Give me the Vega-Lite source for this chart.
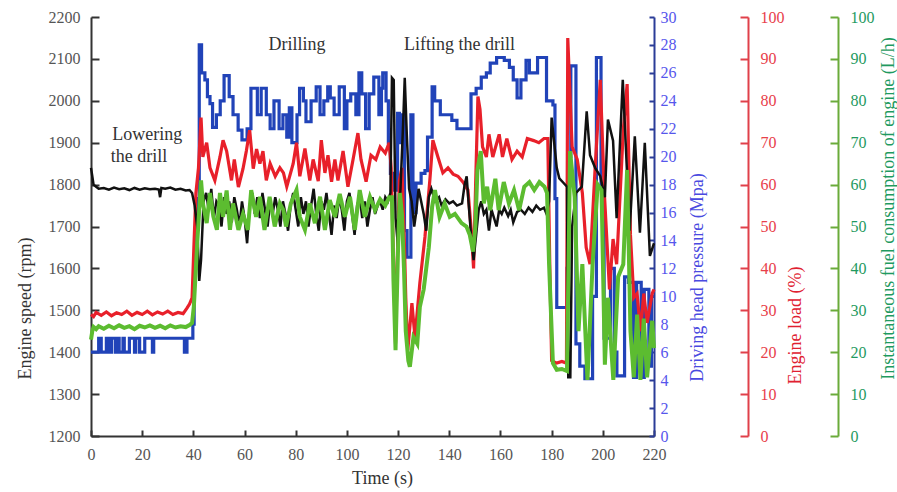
{
  "$schema": "https://vega.github.io/schema/vega-lite/v6.json",
  "width": 563,
  "height": 419,
  "autosize": {"type": "none"},
  "padding": {"left": 91, "top": 17, "right": 243, "bottom": 56},
  "background": "white",
  "config": {
    "view": {"stroke": null},
    "font": "Liberation Serif",
    "axis": {"grid": false, "labelFont": "Liberation Serif", "titleFont": "Liberation Serif", "labelFontSize": 16, "titleFontSize": 18, "titleFontWeight": "normal", "domainWidth": 2, "tickWidth": 2}
  },
  "datasets": {
    "speed": [
      {"t":0,"v":1840},{"t":0.5,"v":1820},{"t":1,"v":1800},{"t":2,"v":1795},{"t":3,"v":1790},{"t":5,"v":1792},{"t":7,"v":1788},{"t":9,"v":1793},{"t":11,"v":1789},{"t":13,"v":1791},{"t":15,"v":1787},{"t":17,"v":1792},{"t":19,"v":1788},{"t":21,"v":1791},{"t":23,"v":1789},{"t":25,"v":1790},{"t":26.5,"v":1788},{"t":27,"v":1770},{"t":27.5,"v":1792},{"t":29,"v":1790},{"t":31,"v":1793},{"t":33,"v":1788},{"t":35,"v":1790},{"t":37,"v":1786},{"t":38.5,"v":1787},{"t":39.5,"v":1780},{"t":40.5,"v":1750},{"t":41.5,"v":1700},{"t":42.3,"v":1570},{"t":43,"v":1620},{"t":44,"v":1760},{"t":45,"v":1780},{"t":46,"v":1740},{"t":47,"v":1790},{"t":48,"v":1720},{"t":49,"v":1760},{"t":50,"v":1750},{"t":51,"v":1700},{"t":52,"v":1770},{"t":53,"v":1730},{"t":54,"v":1760},{"t":55,"v":1710},{"t":56,"v":1770},{"t":57,"v":1740},{"t":58,"v":1700},{"t":59,"v":1760},{"t":60,"v":1720},{"t":61,"v":1660},{"t":62,"v":1750},{"t":63,"v":1780},{"t":64,"v":1730},{"t":65,"v":1770},{"t":66,"v":1720},{"t":67,"v":1780},{"t":68,"v":1740},{"t":69,"v":1700},{"t":70,"v":1760},{"t":71,"v":1730},{"t":72,"v":1770},{"t":73,"v":1740},{"t":74,"v":1700},{"t":75,"v":1760},{"t":76,"v":1730},{"t":77,"v":1690},{"t":78,"v":1750},{"t":79,"v":1780},{"t":80,"v":1740},{"t":81,"v":1700},{"t":82,"v":1770},{"t":83,"v":1730},{"t":84,"v":1760},{"t":85,"v":1700},{"t":86,"v":1750},{"t":87,"v":1790},{"t":88,"v":1730},{"t":89,"v":1690},{"t":90,"v":1760},{"t":91,"v":1740},{"t":92,"v":1780},{"t":93,"v":1730},{"t":94,"v":1680},{"t":95,"v":1750},{"t":96,"v":1720},{"t":97,"v":1770},{"t":98,"v":1740},{"t":99,"v":1690},{"t":100,"v":1760},{"t":101,"v":1780},{"t":102,"v":1730},{"t":103,"v":1680},{"t":104,"v":1750},{"t":105,"v":1770},{"t":106,"v":1720},{"t":107,"v":1760},{"t":108,"v":1700},{"t":109,"v":1740},{"t":110,"v":1770},{"t":111,"v":1730},{"t":112,"v":1750},{"t":113,"v":1760},{"t":114,"v":1740},{"t":115,"v":1770},{"t":116,"v":1760},{"t":117,"v":1780},{"t":117.6,"v":2055},{"t":118.3,"v":2050},{"t":119,"v":1720},{"t":120,"v":1650},{"t":121,"v":1800},{"t":122,"v":1950},{"t":122.6,"v":2055},{"t":123.4,"v":1920},{"t":124.3,"v":1790},{"t":125.3,"v":1760},{"t":126.3,"v":1700},{"t":127.2,"v":1740},{"t":128,"v":1790},{"t":129,"v":1760},{"t":130,"v":1730},{"t":131,"v":1690},{"t":132,"v":1770},{"t":133,"v":1790},{"t":134.5,"v":1760},{"t":136,"v":1770},{"t":137,"v":1750},{"t":138.5,"v":1765},{"t":140,"v":1755},{"t":141.5,"v":1760},{"t":143,"v":1750},{"t":145,"v":1755},{"t":146,"v":1800},{"t":146.8,"v":1820},{"t":147.5,"v":1760},{"t":148.5,"v":1680},{"t":149.5,"v":1620},{"t":150.5,"v":1680},{"t":151.5,"v":1740},{"t":152.5,"v":1760},{"t":153.5,"v":1730},{"t":154.5,"v":1740},{"t":155.5,"v":1690},{"t":156.5,"v":1740},{"t":157.5,"v":1720},{"t":158.5,"v":1700},{"t":159.5,"v":1740},{"t":160.5,"v":1730},{"t":161.5,"v":1745},{"t":163,"v":1725},{"t":164,"v":1740},{"t":165,"v":1710},{"t":166.5,"v":1735},{"t":168,"v":1740},{"t":169.5,"v":1730},{"t":171,"v":1745},{"t":172.5,"v":1735},{"t":174,"v":1750},{"t":175.5,"v":1740},{"t":177,"v":1745},{"t":178,"v":1730},{"t":179,"v":1760},{"t":180,"v":1960},{"t":181,"v":1900},{"t":182,"v":1840},{"t":183,"v":1815},{"t":184.5,"v":1805},{"t":186,"v":1795},{"t":186.5,"v":1340},{"t":187.3,"v":1340},{"t":188,"v":1700},{"t":189.5,"v":1780},{"t":191.8,"v":1795},{"t":193.7,"v":1975},{"t":195,"v":1870},{"t":197,"v":1840},{"t":199,"v":1820},{"t":200.8,"v":1770},{"t":202,"v":1955},{"t":204,"v":1905},{"t":205.4,"v":1720},{"t":207.8,"v":2050},{"t":210.5,"v":1690},{"t":212.5,"v":1915},{"t":214.5,"v":1685},{"t":216.4,"v":1900},{"t":218.4,"v":1630},{"t":220,"v":1660}
    ],
    "pressure": [
      {"t":0,"p":6},{"t":3,"p":7},{"t":4,"p":6},{"t":6,"p":7},{"t":7,"p":6},{"t":8,"p":7},{"t":9.5,"p":6},{"t":10,"p":7},{"t":11,"p":6},{"t":12.5,"p":7},{"t":13,"p":6},{"t":15,"p":7},{"t":17,"p":6},{"t":17.5,"p":7},{"t":19,"p":6},{"t":21,"p":7},{"t":24,"p":6},{"t":24.5,"p":7},{"t":36.5,"p":6},{"t":37.5,"p":7},{"t":39.8,"p":8},{"t":40.3,"p":12},{"t":41,"p":15},{"t":41.7,"p":17},{"t":42.3,"p":28},{"t":43.2,"p":26},{"t":44.5,"p":25.5},{"t":45.5,"p":24.3},{"t":46.5,"p":23.8},{"t":47.5,"p":22.1},{"t":49,"p":23},{"t":50.5,"p":24},{"t":52,"p":25.8},{"t":54,"p":24.3},{"t":55.5,"p":23},{"t":57.5,"p":21.9},{"t":59,"p":21.2},{"t":61,"p":22},{"t":62.5,"p":24.9},{"t":65,"p":23},{"t":66.5,"p":24.9},{"t":68.5,"p":23},{"t":70,"p":22},{"t":71.5,"p":24},{"t":73.5,"p":22},{"t":75,"p":23},{"t":76.5,"p":21.4},{"t":77.5,"p":23.5},{"t":78.5,"p":21},{"t":80.5,"p":23},{"t":81.5,"p":24.9},{"t":83,"p":24},{"t":84,"p":22.5},{"t":86,"p":24},{"t":88,"p":25},{"t":89.5,"p":23},{"t":91,"p":24},{"t":92.5,"p":25},{"t":93.5,"p":24.2},{"t":95,"p":23},{"t":97,"p":25},{"t":99,"p":22},{"t":100,"p":24},{"t":101.5,"p":24.5},{"t":103.5,"p":23},{"t":104.7,"p":26},{"t":105.8,"p":24.5},{"t":107.3,"p":22},{"t":108.7,"p":24.5},{"t":110.5,"p":25.7},{"t":112.5,"p":23},{"t":113.5,"p":24.9},{"t":114,"p":26},{"t":115.3,"p":24},{"t":116.2,"p":21},{"t":117,"p":18.8},{"t":118.5,"p":17.6},{"t":119.8,"p":23.1},{"t":120.5,"p":21},{"t":121.3,"p":23},{"t":122.5,"p":14.7},{"t":123.5,"p":12.8},{"t":125,"p":23},{"t":125.8,"p":16},{"t":127,"p":18.1},{"t":129,"p":18.8},{"t":130.5,"p":19},{"t":131.5,"p":21.4},{"t":133.3,"p":25},{"t":134.3,"p":24},{"t":136.5,"p":23},{"t":141,"p":22.6},{"t":143,"p":22},{"t":148.5,"p":24.5},{"t":150.5,"p":24.9},{"t":152.5,"p":25.7},{"t":154.5,"p":26},{"t":156,"p":26.7},{"t":158.5,"p":27.1},{"t":161.5,"p":26.9},{"t":163.5,"p":26.4},{"t":165,"p":25.5},{"t":166.5,"p":24.2},{"t":168,"p":25.5},{"t":170,"p":26.9},{"t":171.3,"p":26},{"t":174.5,"p":27.1},{"t":178,"p":24},{"t":180.5,"p":23.7},{"t":181.3,"p":17},{"t":182,"p":9.2},{"t":186,"p":12},{"t":186.7,"p":20},{"t":187.5,"p":26.5},{"t":189.5,"p":6.6},{"t":191,"p":5},{"t":193,"p":4.1},{"t":196,"p":10},{"t":197.5,"p":27.1},{"t":199.3,"p":18},{"t":200.5,"p":7},{"t":203,"p":12},{"t":204.5,"p":6},{"t":205.5,"p":4.3},{"t":208.5,"p":11.4},{"t":210,"p":11},{"t":212,"p":4.2},{"t":213.2,"p":11},{"t":215,"p":4.2},{"t":216.2,"p":10.5},{"t":218,"p":5},{"t":219,"p":10},{"t":220,"p":10}
    ],
    "load": [
      {"t":0,"l":29},{"t":1,"l":28.5},{"t":2,"l":29.5},{"t":4,"l":28.8},{"t":6,"l":29.6},{"t":8,"l":28.7},{"t":10,"l":29.4},{"t":12,"l":29},{"t":14,"l":29.8},{"t":16,"l":28.8},{"t":18,"l":29.5},{"t":20,"l":29},{"t":22,"l":29.8},{"t":24,"l":28.9},{"t":26,"l":29.6},{"t":28,"l":29.1},{"t":30,"l":29.8},{"t":32,"l":29},{"t":34,"l":29.5},{"t":36,"l":29.2},{"t":37.5,"l":30.5},{"t":38.5,"l":31.5},{"t":39.5,"l":33},{"t":40.2,"l":45},{"t":41,"l":58},{"t":42,"l":64},{"t":43,"l":76},{"t":43.7,"l":66.6},{"t":45.2,"l":70},{"t":46.5,"l":64},{"t":48.4,"l":61},{"t":50.4,"l":66.6},{"t":51.6,"l":70.6},{"t":53,"l":68},{"t":54.9,"l":61},{"t":56,"l":66},{"t":57.6,"l":59.4},{"t":59.4,"l":63.8},{"t":60.7,"l":68},{"t":62,"l":73},{"t":63.4,"l":63.8},{"t":64.7,"l":68.5},{"t":66,"l":65},{"t":67.2,"l":68},{"t":68.5,"l":61},{"t":70,"l":65},{"t":72,"l":62},{"t":73.8,"l":64},{"t":75.2,"l":62.8},{"t":76.5,"l":59.5},{"t":79,"l":65},{"t":80.3,"l":70},{"t":81.6,"l":62},{"t":83.6,"l":68.6},{"t":85.5,"l":61},{"t":86.8,"l":66},{"t":88.8,"l":60.8},{"t":90,"l":70.6},{"t":91.4,"l":62.8},{"t":92.6,"l":67},{"t":94,"l":60.7},{"t":95.3,"l":66},{"t":96.5,"l":61},{"t":98.5,"l":68},{"t":100.4,"l":59.5},{"t":102.4,"l":66},{"t":104.3,"l":72.3},{"t":105.5,"l":66},{"t":107.5,"l":60.7},{"t":109.4,"l":67},{"t":111.3,"l":66},{"t":113,"l":69},{"t":115,"l":67.5},{"t":116.5,"l":70},{"t":117.3,"l":64},{"t":118.3,"l":40},{"t":119,"l":22},{"t":119.8,"l":45},{"t":120.5,"l":61},{"t":121.5,"l":64},{"t":122.5,"l":45},{"t":123,"l":33},{"t":123.8,"l":20.5},{"t":125.4,"l":31.7},{"t":126.6,"l":23.6},{"t":128.5,"l":36.5},{"t":130.5,"l":47.5},{"t":132.4,"l":61},{"t":133.6,"l":70.6},{"t":135.5,"l":66.7},{"t":137.5,"l":62.8},{"t":139.5,"l":64},{"t":141.5,"l":62.5},{"t":143.4,"l":62},{"t":145.4,"l":60.6},{"t":147.3,"l":58.7},{"t":148.6,"l":49},{"t":149.5,"l":40},{"t":150.3,"l":60},{"t":151.2,"l":81},{"t":152,"l":78},{"t":153,"l":69},{"t":154.5,"l":66.6},{"t":155.5,"l":72},{"t":157,"l":66.6},{"t":159.5,"l":72},{"t":160.8,"l":66.6},{"t":162.5,"l":71},{"t":164.5,"l":66},{"t":166.5,"l":68},{"t":168.5,"l":66.6},{"t":170.5,"l":71},{"t":173,"l":70.5},{"t":175,"l":70},{"t":177,"l":71},{"t":178.5,"l":71},{"t":179.3,"l":40},{"t":180,"l":18},{"t":182,"l":17.4},{"t":184,"l":17.8},{"t":185.8,"l":17.4},{"t":186.3,"l":95},{"t":188,"l":69},{"t":190,"l":66},{"t":192,"l":58},{"t":193.5,"l":45},{"t":195,"l":41},{"t":197,"l":64},{"t":199,"l":85},{"t":200.6,"l":58},{"t":202.6,"l":35},{"t":204,"l":47},{"t":205.4,"l":41},{"t":208,"l":73},{"t":209.5,"l":84},{"t":210.8,"l":48},{"t":212.1,"l":33},{"t":213.4,"l":34},{"t":214.7,"l":25},{"t":216,"l":34},{"t":217.3,"l":27},{"t":219.3,"l":34},{"t":220,"l":35}
    ],
    "fuel": [
      {"t":0,"f":23},{"t":0.5,"f":25},{"t":1,"f":26},{"t":2,"f":25.5},{"t":3,"f":26.2},{"t":5,"f":25.6},{"t":7,"f":26.3},{"t":9,"f":25.7},{"t":11,"f":26.4},{"t":13,"f":25.8},{"t":15,"f":26.2},{"t":17,"f":25.5},{"t":19,"f":26.3},{"t":21,"f":25.9},{"t":23,"f":26.4},{"t":25,"f":25.8},{"t":27,"f":26.3},{"t":29,"f":25.7},{"t":31,"f":26.4},{"t":33,"f":25.9},{"t":35,"f":26.2},{"t":37,"f":26},{"t":38.5,"f":26.5},{"t":39.5,"f":27},{"t":40.2,"f":31},{"t":41.5,"f":46},{"t":43,"f":61},{"t":43.7,"f":55.6},{"t":45.2,"f":50.8},{"t":46.5,"f":58},{"t":47.8,"f":52.4},{"t":49.2,"f":49.2},{"t":50.4,"f":58},{"t":51.6,"f":52.3},{"t":53,"f":58.6},{"t":54.3,"f":49.2},{"t":55.5,"f":55.5},{"t":57.6,"f":49.2},{"t":59.4,"f":53},{"t":61.3,"f":49.2},{"t":62.6,"f":58.7},{"t":64.5,"f":52.3},{"t":66,"f":57.1},{"t":67.8,"f":49.2},{"t":69.8,"f":57.1},{"t":71.8,"f":50},{"t":73.8,"f":55.5},{"t":75.2,"f":53.9},{"t":76.2,"f":50},{"t":78.1,"f":55.5},{"t":80.3,"f":58.7},{"t":81.6,"f":52.3},{"t":83.6,"f":49.2},{"t":85.5,"f":55.5},{"t":87.5,"f":50.8},{"t":89.5,"f":57.1},{"t":91.4,"f":49.2},{"t":93.3,"f":56.3},{"t":95.3,"f":52.3},{"t":97.2,"f":57.8},{"t":99.2,"f":52.3},{"t":101.2,"f":57.1},{"t":103.1,"f":49.2},{"t":105,"f":58.7},{"t":107,"f":52.3},{"t":109,"f":57.1},{"t":111,"f":53.9},{"t":113,"f":56.5},{"t":115,"f":55},{"t":116.5,"f":57},{"t":117.6,"f":57},{"t":118.2,"f":37},{"t":119,"f":20.5},{"t":120,"f":45},{"t":120.7,"f":58},{"t":121.5,"f":53},{"t":122.3,"f":40},{"t":123,"f":25},{"t":124,"f":18},{"t":124.6,"f":16.5},{"t":126,"f":23.6},{"t":127.5,"f":22},{"t":128.5,"f":30.8},{"t":130,"f":35},{"t":132,"f":45},{"t":133.3,"f":54.7},{"t":134.4,"f":58.7},{"t":136.2,"f":52.3},{"t":138.2,"f":55.5},{"t":140.2,"f":52.3},{"t":142.2,"f":53},{"t":144.8,"f":50.8},{"t":146.7,"f":50},{"t":148,"f":48},{"t":149.3,"f":44},{"t":150.2,"f":50},{"t":151,"f":63.5},{"t":152.3,"f":68},{"t":153.5,"f":55.5},{"t":154.8,"f":59.5},{"t":156,"f":53.9},{"t":158,"f":61.4},{"t":159.3,"f":53.9},{"t":161.3,"f":60.6},{"t":163.3,"f":55.5},{"t":165.3,"f":58.7},{"t":167.3,"f":53.9},{"t":169.3,"f":59.5},{"t":171.3,"f":60.6},{"t":173.2,"f":58.7},{"t":175.2,"f":60.6},{"t":177.2,"f":59.5},{"t":178.2,"f":58},{"t":179,"f":41},{"t":180.5,"f":17.4},{"t":182,"f":15.8},{"t":184,"f":16},{"t":186,"f":15.5},{"t":186.6,"f":40},{"t":187.2,"f":68},{"t":189,"f":57},{"t":190.5,"f":25},{"t":192,"f":41},{"t":194,"f":13.4},{"t":196,"f":41},{"t":198,"f":60},{"t":199.5,"f":58.7},{"t":200.8,"f":17},{"t":202,"f":33},{"t":204.1,"f":13.4},{"t":206,"f":38},{"t":208,"f":41},{"t":209.5,"f":63.5},{"t":210.8,"f":25},{"t":212.1,"f":14},{"t":213.4,"f":29},{"t":214.7,"f":13.4},{"t":216,"f":28},{"t":217.3,"f":14},{"t":219.3,"f":27.5},{"t":220,"f":21}
    ],
    "notes": [
      {"t":22,"v":1918,"label":"Lowering"},
      {"t":18.8,"v":1866,"label":"the drill"},
      {"t":80.5,"v":2133,"label":"Drilling"},
      {"t":144,"v":2133,"label":"Lifting the drill"}
    ]
  },
  "layer": [
    {
      "data": {"name": "pressure"},
      "mark": {"type": "line", "color": "#2143b8", "strokeWidth": 3.2, "interpolate": "step-after"},
      "encoding": {
        "x": {"field": "t", "type": "quantitative", "scale": {"domain": [0, 220], "nice": false},
          "axis": {"title": "Time (s)", "values": [0,20,40,60,80,100,120,140,160,180,200,220], "format": "d", "labelFlush": false, "tickSize": -6, "labelPadding": 16, "domainColor": "#333333", "tickColor": "#333333", "labelColor": "#555555", "titleColor": "#333333", "titleX": 291, "titleY": 42, "titleBaseline": "middle"}},
        "y": {"field": "p", "type": "quantitative", "scale": {"domain": [0, 30], "nice": false},
          "axis": {"orient": "right", "offset": 0, "title": "Driving head pressure (Mpa)", "values": [0,2,4,6,8,10,12,14,16,18,20,22,24,26,28,30], "format": "d", "tickSize": -5, "labelPadding": 11, "domainColor": "#2b3c98", "tickColor": "#2b3c98", "labelColor": "#5656ec", "titleColor": "#4a4ae0", "titleAngle": 270, "titleX": 43, "titleY": 260, "titleAlign": "center", "titleBaseline": "middle"}}
      }
    },
    {
      "data": {"name": "load"},
      "mark": {"type": "line", "color": "#e8202a", "strokeWidth": 3.2},
      "encoding": {
        "x": {"field": "t", "type": "quantitative", "scale": {"domain": [0, 220], "nice": false}},
        "y": {"field": "l", "type": "quantitative", "scale": {"domain": [0, 100], "nice": false},
          "axis": {"orient": "right", "offset": 94, "title": "Engine load (%)", "values": [0,10,20,30,40,50,60,70,80,90,100], "format": "d", "tickSize": -8, "labelPadding": 20, "domainColor": "#e0404a", "tickColor": "#e0404a", "labelColor": "#e8404a", "titleColor": "#e02030", "titleAngle": 270, "titleX": 47, "titleY": 308, "titleAlign": "center", "titleBaseline": "middle"}}
      }
    },
    {
      "data": {"name": "speed"},
      "mark": {"type": "line", "color": "#111111", "strokeWidth": 2.5},
      "encoding": {
        "x": {"field": "t", "type": "quantitative", "scale": {"domain": [0, 220], "nice": false}},
        "y": {"field": "v", "type": "quantitative", "scale": {"domain": [1200, 2200], "nice": false},
          "axis": {"orient": "left", "title": "Engine speed (rpm)", "values": [1200,1300,1400,1500,1600,1700,1800,1900,2000,2100,2200], "format": "d", "tickSize": -8, "labelPadding": 19, "domainColor": "#333333", "tickColor": "#333333", "labelColor": "#555555", "titleColor": "#333333", "titleAngle": 270, "titleX": -66, "titleY": 291, "titleAlign": "center", "titleBaseline": "middle"}}
      }
    },
    {
      "data": {"name": "fuel"},
      "mark": {"type": "line", "color": "#5cbc30", "strokeWidth": 4},
      "encoding": {
        "x": {"field": "t", "type": "quantitative", "scale": {"domain": [0, 220], "nice": false}},
        "y": {"field": "f", "type": "quantitative", "scale": {"domain": [0, 100], "nice": false},
          "axis": {"orient": "right", "offset": 184, "title": "Instantaneous fuel consumption of engine (L/h)", "values": [0,10,20,30,40,50,60,70,80,90,100], "format": "d", "tickSize": -8, "labelPadding": 20, "domainColor": "#6aab3a", "tickColor": "#6aab3a", "labelColor": "#1f9a5f", "titleColor": "#1f9a5f", "titleAngle": 270, "titleX": 50, "titleY": 191, "titleAlign": "center", "titleBaseline": "middle"}}
      }
    },
    {
      "data": {"name": "notes"},
      "mark": {"type": "text", "font": "Liberation Serif", "fontSize": 18, "color": "#333333", "align": "center", "baseline": "middle"},
      "encoding": {
        "x": {"field": "t", "type": "quantitative", "scale": {"domain": [0, 220], "nice": false}},
        "y": {"field": "v", "type": "quantitative", "scale": {"domain": [1200, 2200], "nice": false}, "axis": null},
        "text": {"field": "label"}
      }
    }
  ],
  "resolve": {"scale": {"y": "independent"}, "axis": {"y": "independent"}}
}
